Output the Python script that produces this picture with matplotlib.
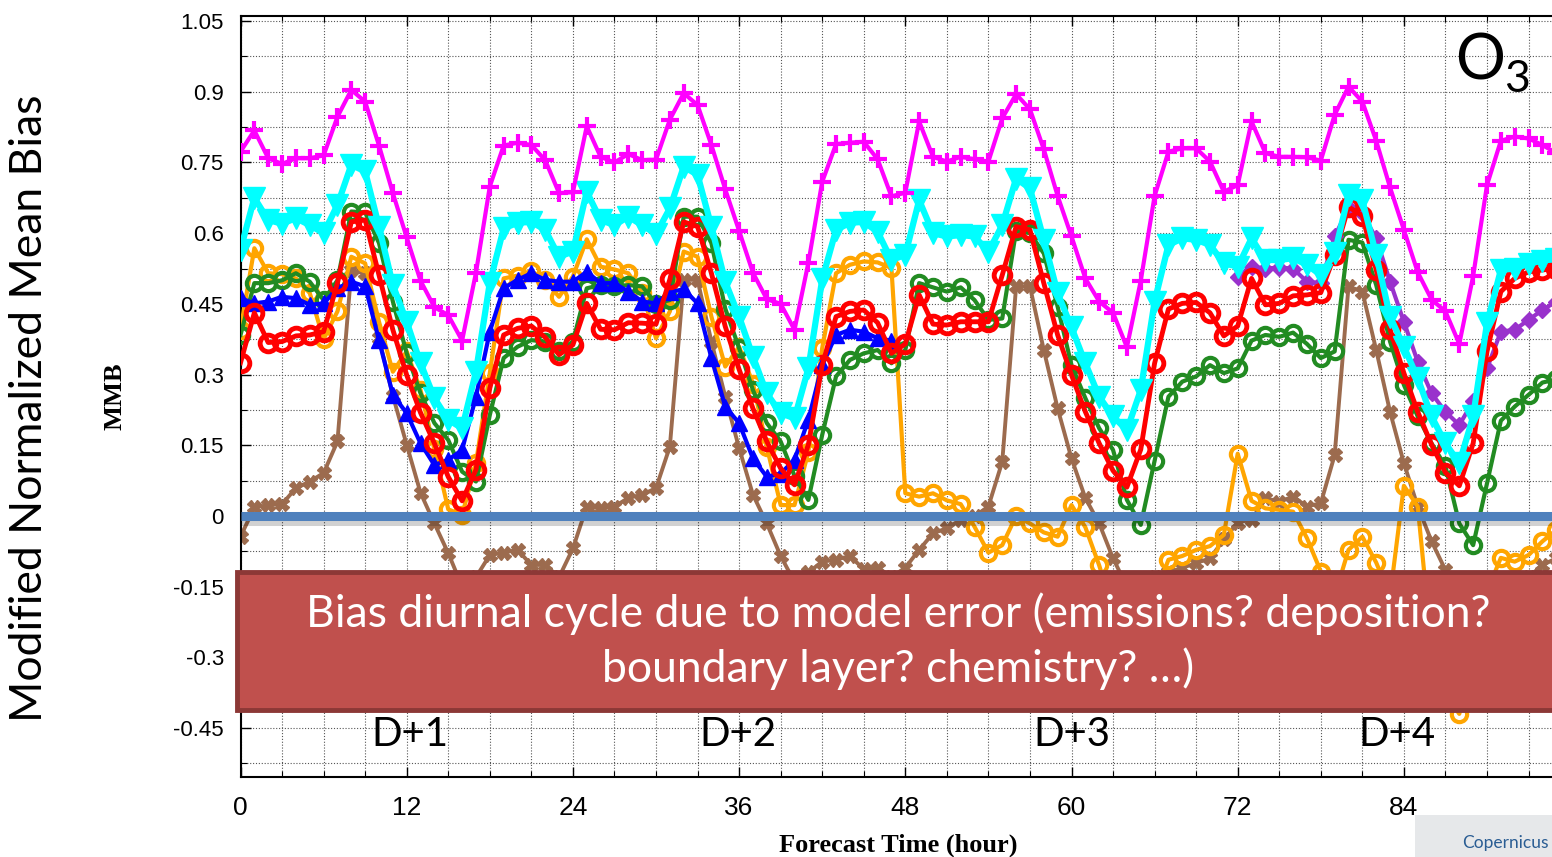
import matplotlib
matplotlib.use('Agg')
import matplotlib.pyplot as plt
import matplotlib.patheffects as pe
from matplotlib.patches import Rectangle
from matplotlib.ticker import MultipleLocator, FixedLocator

# ---------------- data ----------------
hours = list(range(96))

magenta = [0.773, 0.818, 0.759, 0.747, 0.759, 0.759, 0.765, 0.847, 0.904, 0.879, 0.786, 0.685,
           0.591, 0.499, 0.443, 0.426, 0.372, 0.516, 0.699, 0.786, 0.792, 0.787, 0.755, 0.685,
           0.687, 0.827, 0.762, 0.750, 0.768, 0.755, 0.756, 0.841, 0.897, 0.872, 0.787, 0.693,
           0.605, 0.516, 0.460, 0.450, 0.395, 0.537, 0.709, 0.789, 0.792, 0.794, 0.757, 0.678,
           0.686, 0.837, 0.762, 0.752, 0.762, 0.757, 0.752, 0.844, 0.895, 0.863, 0.778, 0.679,
           0.593, 0.504, 0.455, 0.431, 0.358, 0.499, 0.679, 0.773, 0.780, 0.780, 0.752, 0.688,
           0.702, 0.837, 0.770, 0.762, 0.762, 0.761, 0.754, 0.851, 0.911, 0.879, 0.796, 0.697,
           0.607, 0.517, 0.459, 0.434, 0.365, 0.509, 0.702, 0.796, 0.805, 0.801, 0.787, 0.770]

cyan = [0.565, 0.675, 0.628, 0.620, 0.632, 0.617, 0.600, 0.660, 0.745, 0.731, 0.614, 0.490,
        0.412, 0.324, 0.250, 0.204, 0.186, 0.306, 0.495, 0.610, 0.622, 0.624, 0.607, 0.550,
        0.561, 0.688, 0.628, 0.617, 0.635, 0.617, 0.598, 0.653, 0.741, 0.724, 0.614, 0.497,
        0.423, 0.338, 0.260, 0.218, 0.207, 0.313, 0.502, 0.607, 0.622, 0.624, 0.603, 0.543,
        0.554, 0.670, 0.600, 0.593, 0.596, 0.593, 0.561, 0.617, 0.716, 0.695, 0.586, 0.473,
        0.400, 0.324, 0.253, 0.211, 0.182, 0.267, 0.455, 0.575, 0.589, 0.586, 0.575, 0.536,
        0.529, 0.589, 0.543, 0.543, 0.547, 0.533, 0.511, 0.557, 0.681, 0.670, 0.554, 0.423,
        0.359, 0.292, 0.211, 0.154, 0.112, 0.211, 0.409, 0.522, 0.525, 0.535, 0.542, 0.545]

green = [0.384, 0.494, 0.494, 0.500, 0.515, 0.497, 0.458, 0.500, 0.646, 0.644, 0.579, 0.455,
         0.345, 0.260, 0.197, 0.161, 0.094, 0.073, 0.214, 0.335, 0.359, 0.373, 0.370, 0.350,
         0.370, 0.483, 0.490, 0.487, 0.490, 0.487, 0.450, 0.458, 0.635, 0.635, 0.579, 0.440,
         0.356, 0.267, 0.197, 0.158, 0.085, 0.034, 0.172, 0.296, 0.331, 0.345, 0.352, 0.324,
         0.352, 0.494, 0.485, 0.476, 0.485, 0.458, 0.416, 0.419, 0.605, 0.600, 0.557, 0.444,
         0.320, 0.250, 0.186, 0.140, 0.034, -0.019, 0.117, 0.253, 0.285, 0.296, 0.320, 0.303,
         0.313, 0.372, 0.384, 0.380, 0.389, 0.365, 0.335, 0.349, 0.586, 0.580, 0.490, 0.370,
         0.278, 0.211, 0.154, 0.105, -0.016, -0.062, 0.069, 0.202, 0.232, 0.257, 0.283, 0.290]

red = [0.325, 0.431, 0.368, 0.370, 0.382, 0.384, 0.391, 0.494, 0.624, 0.628, 0.511, 0.395,
       0.299, 0.219, 0.154, 0.083, 0.032, 0.098, 0.271, 0.384, 0.398, 0.403, 0.379, 0.342,
       0.363, 0.451, 0.396, 0.395, 0.410, 0.409, 0.407, 0.502, 0.624, 0.614, 0.515, 0.402,
       0.311, 0.228, 0.158, 0.101, 0.066, 0.151, 0.320, 0.423, 0.434, 0.437, 0.410, 0.345,
       0.365, 0.469, 0.407, 0.405, 0.412, 0.412, 0.412, 0.511, 0.614, 0.607, 0.494, 0.384,
       0.299, 0.221, 0.154, 0.096, 0.061, 0.141, 0.324, 0.439, 0.451, 0.453, 0.431, 0.382,
       0.403, 0.504, 0.448, 0.451, 0.467, 0.469, 0.474, 0.554, 0.656, 0.637, 0.522, 0.396,
       0.303, 0.221, 0.151, 0.092, 0.064, 0.154, 0.349, 0.476, 0.504, 0.518, 0.522, 0.525]

orange = [0.395, 0.568, 0.515, 0.513, 0.504, 0.473, 0.375, 0.434, 0.550, 0.536, 0.412, 0.306,
          0.349, 0.267, 0.141, 0.014, 0.002, 0.112, 0.303, 0.504, 0.510, 0.520, 0.500, 0.465,
          0.508, 0.587, 0.529, 0.523, 0.515, 0.473, 0.377, 0.434, 0.561, 0.550, 0.423, 0.317,
          0.359, 0.281, 0.147, 0.023, 0.023, 0.136, 0.356, 0.515, 0.533, 0.540, 0.538, 0.526,
          0.048, 0.041, 0.048, 0.033, 0.025, -0.023, -0.078, -0.062, 0.000, -0.016, -0.035, -0.044,
          0.023, -0.024, -0.105, -0.200, -0.250, -0.220, -0.170, -0.093, -0.085, -0.072, -0.064, -0.040,
          0.132, 0.032, 0.016, 0.013, 0.009, -0.047, -0.118, -0.170, -0.072, -0.044, -0.099, -0.170,
          0.064, 0.020, -0.280, -0.380, -0.420, -0.300, -0.160, -0.089, -0.097, -0.083, -0.054, -0.030]

blue_hours = list(range(48))
blue = [0.462, 0.451, 0.455, 0.465, 0.462, 0.448, 0.451, 0.483, 0.497, 0.487, 0.373, 0.257,
        0.218, 0.154, 0.108, 0.119, 0.140, 0.253, 0.391, 0.483, 0.501, 0.515, 0.501, 0.497,
        0.497, 0.518, 0.494, 0.494, 0.476, 0.455, 0.451, 0.475, 0.481, 0.451, 0.335, 0.232,
        0.197, 0.122, 0.083, 0.090, 0.119, 0.204, 0.320, 0.384, 0.395, 0.391, 0.377, 0.372]

brown = [-0.044, 0.018, 0.023, 0.025, 0.059, 0.073, 0.091, 0.158, 0.521, 0.515, 0.377, 0.255,
         0.151, 0.049, -0.016, -0.079, -0.150, -0.130, -0.083, -0.078, -0.072, -0.104, -0.104, -0.130,
         -0.069, 0.020, 0.016, 0.020, 0.038, 0.045, 0.059, 0.147, 0.501, 0.501, 0.370, 0.253,
         0.144, 0.045, -0.016, -0.085, -0.140, -0.120, -0.097, -0.093, -0.085, -0.113, -0.111, -0.130,
         -0.110, -0.072, -0.037, -0.026, -0.008, -0.001, 0.020, 0.115, 0.487, 0.487, 0.352, 0.228,
         0.122, 0.038, -0.016, -0.090, -0.150, -0.160, -0.130, -0.120, -0.110, -0.100, -0.090, -0.050,
         -0.014, -0.008, 0.038, 0.030, 0.041, 0.020, 0.027, 0.129, 0.487, 0.476, 0.352, 0.221,
         0.112, 0.020, -0.054, -0.115, -0.200, -0.250, -0.220, -0.180, -0.150, -0.130, -0.104, -0.090]

purple_hours = list(range(72, 96))
purple = [0.508, 0.529, 0.525, 0.527, 0.525, 0.497, 0.494, 0.593, 0.653, 0.642, 0.589, 0.497,
          0.412, 0.327, 0.260, 0.221, 0.193, 0.243, 0.313, 0.391, 0.395, 0.416, 0.437, 0.455]

y_ticks = [-0.45, -0.3, -0.15, 0, 0.15, 0.3, 0.45, 0.6, 0.75, 0.9, 1.05]
y_tick_labels = ['-0.45', '-0.3', '-0.15', '0', '0.15', '0.3', '0.45', '0.6', '0.75', '0.9', '1.05']
x_ticks = [0, 12, 24, 36, 48, 60, 72, 84]
x_tick_labels = ['0', '12', '24', '36', '48', '60', '72', '84']
day_labels = ['D+1', 'D+2', 'D+3', 'D+4']
box_lines = ['Bias diurnal cycle due to model error (emissions? deposition?',
             'boundary layer? chemistry? \u2026)']

# ---------------- figure ----------------
W, H = 1552, 857
fig = plt.figure(figsize=(W / 100, H / 100), dpi=100)
fig.patch.set_facecolor('white')

px_per_h = 13.85
ax_left = 240.5 / W
ax_bottom = 1 - 777 / H
ax_top = 1 - 15.7 / H
ax = fig.add_axes([ax_left, ax_bottom, 96 * px_per_h / W, ax_top - ax_bottom])
ax.set_xlim(0, 96)
ax.set_ylim(-0.554, 1.0615)

ax.xaxis.set_major_locator(FixedLocator(x_ticks))
ax.xaxis.set_minor_locator(MultipleLocator(3))
ax.yaxis.set_major_locator(FixedLocator(y_ticks))
ax.yaxis.set_minor_locator(MultipleLocator(0.075))
ax.set_xticklabels(x_tick_labels, fontsize=19, family='Liberation Sans')
ax.set_yticklabels(y_tick_labels, fontsize=16, family='Liberation Sans')
ax.tick_params(which='both', direction='in', top=True, right=False)
ax.tick_params(which='major', length=7, width=1)
ax.tick_params(which='minor', length=4, width=0.8)
ax.tick_params(axis='x', which='major', pad=14)
ax.tick_params(axis='y', which='major', pad=12)
ax.grid(which='both', linestyle=(0, (1, 1.6)), color='#555555', linewidth=0.8, zorder=0)
ax.set_axisbelow(True)
for s in ['left', 'bottom', 'top']:
    ax.spines[s].set_linewidth(1.5)
ax.spines['right'].set_visible(False)

ax.plot(hours, brown, color='#9C6B4E', lw=2.8, marker='X', ms=10, mew=1, zorder=2)
ax.plot(hours, orange, color='#FFA500', lw=3, marker='o', ms=11, mfc='none', mew=3, zorder=3)
ax.plot(hours, green, color='#228B22', lw=3, marker='o', ms=11, mfc='none', mew=3, zorder=4)
ax.plot(blue_hours, blue, color='#0000FF', lw=3, marker='^', ms=11, zorder=4)
ax.plot(purple_hours, purple, color='#9932CC', lw=3, marker='D', ms=8, zorder=4)
ax.plot(hours, red, color='#FF0000', lw=3.5, marker='o', ms=12, mfc='none', mew=3.5, zorder=5)
ax.plot(hours, cyan, color='#00FFFF', lw=4.5, marker='v', ms=16, zorder=6)
ax.plot(hours, magenta, color='#FF00FF', lw=3, marker='+', ms=13, mew=3, zorder=7)

ax.axhline(0, color='#4F81BD', lw=6.5, zorder=9, solid_capstyle='butt',
           path_effects=[pe.SimpleLineShadow(offset=(0, -4), shadow_color='black', alpha=0.18),
                         pe.Normal()])

# red annotation box
bx0, by_top, by_bot = 237, 572, 710
fig.add_artist(Rectangle((bx0 / W, 1 - by_bot / H), 1.0, (by_bot - by_top) / H,
                         transform=fig.transFigure, facecolor='#C0504D',
                         edgecolor='#8C3836', lw=3.5, zorder=20))
fig.text(898 / W, 1 - 614 / H, box_lines[0], ha='center', va='center', color='white',
         fontsize=32, family='Lato', zorder=21)
fig.text(898 / W, 1 - 669 / H, box_lines[1], ha='center', va='center', color='white',
         fontsize=32, family='Lato', zorder=21)

# day labels
for lab, xp in zip(day_labels, [410, 738, 1072, 1397]):
    fig.text(xp / W, 1 - 735 / H, lab, ha='center', va='center', fontsize=29,
             family='Lato', color='black', zorder=15)

# O3
fig.text(1480 / W, 1 - 62 / H, 'O', ha='center', va='center', fontsize=45, family='Lato')
fig.text(1517 / W, 1 - 80 / H, '3', ha='center', va='center', fontsize=32, family='Lato')

# axis labels
fig.text(30 / W, 1 - 408 / H, 'Modified Normalized Mean Bias', rotation=90, ha='center',
         va='center', fontsize=32, family='Lato')
fig.text(115 / W, 1 - 396 / H, 'MMB', rotation=90, ha='center', va='center', fontsize=19,
         fontweight='bold', family='Liberation Serif')
fig.text(898 / W, 1 - 845 / H, 'Forecast Time (hour)', ha='center', va='center', fontsize=19,
         fontweight='bold', family='Liberation Serif')

# logo hint
fig.add_artist(Rectangle((1415 / W, 0), 200 / W, 42 / H, transform=fig.transFigure,
                         facecolor='#E6E8EA', edgecolor='none', zorder=1))
fig.text(1462 / W, 1 - 843 / H, 'Copernicus', ha='left', va='center', fontsize=12.5,
         family='Lato', color='#2A5D93')

fig.savefig('out.png', dpi=100)
